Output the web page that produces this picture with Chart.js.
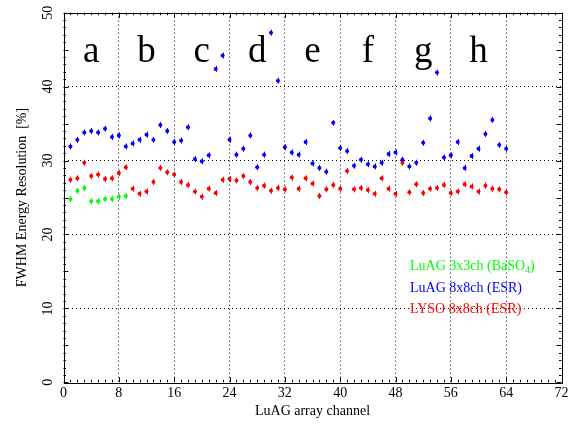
<!DOCTYPE html>
<html>
<head>
<meta charset="utf-8">
<script src="https://cdn.jsdelivr.net/npm/chart.js@4.4.1/dist/chart.umd.min.js"></script>
<style>
  html, body { margin: 0; padding: 0; background: #fff; }
  #wrap { width: 575px; height: 425px; }
</style>
</head>
<body>
<div id="wrap"><canvas id="c" width="575" height="425"></canvas></div>
<script>
// Channel numbers of the 8x8 arrays and of the 3x3 array
const channels = [
  1, 2, 3, 4, 5, 6, 7, 8, 9, 10, 11, 12, 13, 14, 15, 16,
  17, 18, 19, 20, 21, 22, 23, 24, 25, 26, 27, 28, 29, 30, 31, 32,
  33, 34, 35, 36, 37, 38, 39, 40, 41, 42, 43, 44, 45, 46, 47, 48,
  49, 50, 51, 52, 53, 54, 55, 56, 57, 58, 59, 60, 61, 62, 63, 64
];
const channels3x3 = [1, 2, 3, 4, 5, 6, 7, 8, 9];

// FWHM energy resolution [%] per channel
const luag3x3 = [24.8, 25.9, 26.3, 24.5, 24.5, 24.8, 24.8, 25.1, 25.2];
const luag8x8 = [
  31.9, 32.8, 33.8, 34.0, 33.8, 34.3, 33.2, 33.4,
  31.9, 32.3, 32.8, 33.5, 32.8, 34.8, 34.0, 32.5,
  32.7, 34.5, 30.2, 29.9, 30.7, 42.4, 44.2, 32.8,
  30.8, 31.6, 33.4, 29.1, 30.8, 47.3, 40.8, 31.8,
  31.1, 30.8, 32.5, 29.6, 29.0, 28.5, 35.1, 31.7,
  31.3, 29.3, 30.1, 29.5, 29.2, 29.7, 30.9, 31.1,
  30.1, 29.2, 29.7, 32.4, 35.7, 41.9, 30.4, 30.7,
  32.5, 29.0, 30.6, 31.6, 33.6, 35.5, 32.1, 31.6
];
const lyso8x8 = [
  27.4, 27.6, 29.7, 27.9, 28.1, 27.5, 27.6, 28.3,
  29.1, 26.2, 25.5, 25.8, 27.1, 29.0, 28.4, 28.1,
  27.1, 26.7, 25.8, 25.1, 26.2, 25.6, 27.4, 27.5,
  27.3, 27.9, 27.1, 26.3, 26.6, 25.9, 26.3, 26.1,
  27.7, 26.2, 27.6, 26.9, 25.2, 26.1, 26.7, 26.2,
  28.6, 26.1, 26.3, 26.0, 25.5, 27.6, 26.2, 25.5,
  29.7, 25.7, 26.8, 25.6, 26.2, 26.3, 26.7, 25.6,
  25.8, 26.8, 26.5, 25.8, 26.6, 26.2, 26.1, 25.7
];

// Row labels of the array, placed over each group of 8 channels
const rowLabels = ['a', 'b', 'c', 'd', 'e', 'f', 'g', 'h'];
const rowLabelChannels = [4, 12, 20, 28, 36, 44, 52, 60];
const rowLabelLevel = 43.3;

// Axis ranges and ticks
const xTicks = [0, 8, 16, 24, 32, 40, 48, 56, 64, 72];
const yTicks = [0, 10, 20, 30, 40, 50];

const SERIF = "'Liberation Serif', 'DejaVu Serif', serif";
const GREEN = '#00ff00', BLUE = '#0000ff', RED = '#ff0000';

function pts(xs, ys) { return xs.map((x, i) => ({ x: x, y: ys[i] })); }

// Frame, inward tick marks, short vertical bars on the points, row letters and key
const decorations = {
  id: 'decorations',
  beforeDatasetsDraw(chart) {
    const ctx = chart.ctx;
    const xs = chart.scales.x, ys = chart.scales.y;
    ctx.save();
    ctx.lineWidth = 1;
    chart.data.datasets.forEach(ds => {
      ctx.strokeStyle = ds.borderColor;
      ds.data.forEach(p => {
        const px = Math.round(xs.getPixelForValue(p.x)) + 0.5, py = ys.getPixelForValue(p.y);
        ctx.beginPath();
        ctx.moveTo(px, py - 3);
        ctx.lineTo(px, py + 3);
        ctx.stroke();
      });
    });
    ctx.restore();
  },
  afterDatasetsDraw(chart) {
    const ctx = chart.ctx;
    const a = chart.chartArea;
    const xs = chart.scales.x, ys = chart.scales.y;
    ctx.save();
    ctx.strokeStyle = '#000';
    ctx.lineWidth = 1;
    ctx.setLineDash([]);
    // minor and major ticks, mirrored on all sides
    ctx.beginPath();
    for (let v = xs.min; v <= xs.max; v += 1) {
      const len = (v % 8 === 0) ? 5 : 2.5;
      const px = Math.round(xs.getPixelForValue(v)) + 0.5;
      ctx.moveTo(px, a.bottom); ctx.lineTo(px, a.bottom - len);
      ctx.moveTo(px, a.top); ctx.lineTo(px, a.top + len);
    }
    for (let v = ys.min; v <= ys.max; v += 1) {
      const len = (v % 5 === 0) ? 5 : 2.5;
      const py = Math.round(ys.getPixelForValue(v)) + 0.5;
      ctx.moveTo(a.left, py); ctx.lineTo(a.left + len, py);
      ctx.moveTo(a.right, py); ctx.lineTo(a.right - len, py);
    }
    ctx.stroke();
    // frame
    ctx.strokeRect(Math.round(a.left) + 0.5, Math.round(a.top) + 0.5,
                   Math.round(a.right - a.left), Math.round(a.bottom - a.top));

    // row letters
    ctx.fillStyle = '#000';
    ctx.font = '37px ' + SERIF;
    ctx.textAlign = 'center';
    ctx.textBaseline = 'alphabetic';
    rowLabels.forEach((t, i) => {
      ctx.fillText(t, xs.getPixelForValue(rowLabelChannels[i]), ys.getPixelForValue(rowLabelLevel));
    });

    // key
    ctx.textAlign = 'left';
    const kx = 410;
    ctx.font = '14px ' + SERIF;
    ctx.fillStyle = GREEN;
    let x = kx;
    const head = 'LuAG 3x3ch (BaSO';
    ctx.fillText(head, x, 270);
    x += ctx.measureText(head).width;
    ctx.font = '10px ' + SERIF;
    ctx.fillText('4', x, 273);
    x += ctx.measureText('4').width;
    ctx.font = '14px ' + SERIF;
    ctx.fillText(')', x, 270);
    ctx.fillStyle = BLUE;
    ctx.fillText('LuAG 8x8ch (ESR)', kx, 291.5);
    ctx.fillStyle = RED;
    ctx.fillText('LYSO 8x8ch (ESR)', kx, 313);
    ctx.restore();
  }
};

const gridColor = (edge) => (c) => {
  if (!c.tick) return 'rgba(0,0,0,0)';
  return (c.tick.value === edge[0] || c.tick.value === edge[1]) ? 'rgba(0,0,0,0)' : '#000';
};

new Chart(document.getElementById('c'), {
  type: 'scatter',
  data: {
    datasets: [
      { label: 'LuAG 3x3ch (BaSO4)', data: pts(channels3x3, luag3x3),
        backgroundColor: GREEN, borderColor: GREEN, pointRadius: 2, borderWidth: 0 },
      { label: 'LuAG 8x8ch (ESR)', data: pts(channels, luag8x8),
        backgroundColor: BLUE, borderColor: BLUE, pointRadius: 2, borderWidth: 0 },
      { label: 'LYSO 8x8ch (ESR)', data: pts(channels, lyso8x8),
        backgroundColor: RED, borderColor: RED, pointRadius: 2, borderWidth: 0 }
    ]
  },
  options: {
    responsive: false,
    animation: false,
    devicePixelRatio: 1,
    layout: { padding: { left: 0, right: 13.5, top: 12.7, bottom: 0 } },
    plugins: { legend: { display: false }, tooltip: { enabled: false } },
    scales: {
      x: {
        type: 'linear',
        min: xTicks[0], max: xTicks[xTicks.length - 1],
        afterBuildTicks: (s) => { s.ticks = xTicks.map(v => ({ value: v })); },
        afterFit: (s) => { s.height = 42.7; s.paddingLeft = 0; s.paddingRight = 0; },
        ticks: { autoSkip: false, maxRotation: 0, padding: 3, color: '#000',
                 font: { family: SERIF, size: 14 } },
        grid: { color: gridColor([0, 72]), lineWidth: 1, drawTicks: false },
        border: { display: false, dash: [1, 3] },
        title: { display: true, text: 'LuAG array channel', color: '#000',
                 font: { family: SERIF, size: 14 }, padding: { top: 0, bottom: 5 } }
      },
      y: {
        type: 'linear',
        min: yTicks[0], max: yTicks[yTicks.length - 1],
        afterBuildTicks: (s) => { s.ticks = yTicks.map(v => ({ value: v })); },
        afterFit: (s) => { s.width = 63.5; s.paddingTop = 0; s.paddingBottom = 0; },
        ticks: { autoSkip: false, minRotation: 90, maxRotation: 90, crossAlign: 'center',
                 padding: 8, color: '#000', font: { family: SERIF, size: 14 } },
        grid: { color: gridColor([0, 50]), lineWidth: 1, drawTicks: false },
        border: { display: false, dash: [1, 3] },
        title: { display: true, text: 'FWHM Energy Resolution  [%]', color: '#000',
                 font: { family: SERIF, size: 14 }, padding: { top: 14, bottom: 0 } }
      }
    }
  },
  plugins: [decorations]
});
</script>
</body>
</html>
